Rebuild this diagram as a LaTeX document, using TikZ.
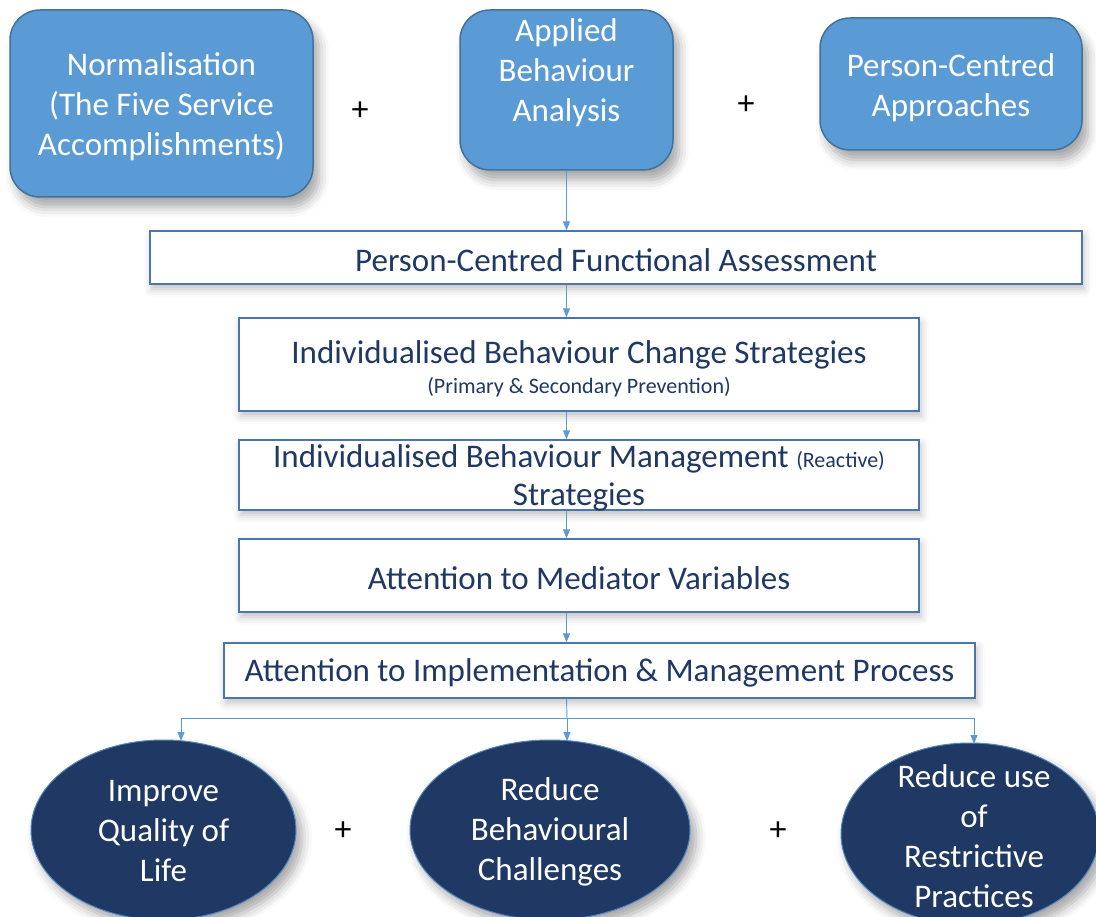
\documentclass[tikz,border=0pt]{standalone}
\usepackage{fontspec}
\setmainfont{Carlito}
\usetikzlibrary{shapes.geometric, arrows.meta, positioning, shadows, shadows.blur, calc}

\definecolor{skyblue}{HTML}{5B9BD5}
\definecolor{edgeblue}{HTML}{41719C}
\definecolor{frameblue}{HTML}{4A76AE}
\definecolor{navyfill}{HTML}{203864}
\definecolor{navytext}{HTML}{1F3864}

\tikzset{
    topbox/.style={draw=edgeblue, line width=1.5pt, fill=skyblue, rounded corners=30pt,
        blur shadow={shadow xshift=6pt, shadow yshift=-10pt, shadow blur radius=10pt, shadow opacity=35}},
    toptext/.style={text=white, align=center, font=\fontsize{33}{40}\selectfont, yshift=-3pt},
    stepbox/.style={draw=frameblue, line width=1.3pt, fill=white, inner sep=0pt,
        blur shadow={shadow xshift=2pt, shadow yshift=-5pt, shadow blur radius=8pt, shadow opacity=25}},
    steptext/.style={text=navytext, align=center, font=\fontsize{33}{38}\selectfont, yshift=-2.5pt},
    goal/.style={ellipse, draw=skyblue!80!navyfill, line width=1pt, fill=navyfill, inner sep=0pt,
        blur shadow={shadow xshift=6pt, shadow yshift=-8pt, shadow blur radius=10pt, shadow opacity=35}},
    goaltext/.style={text=white, align=center, font=\fontsize{33}{40}\selectfont, yshift=-1.5pt},
    plus/.style={font=\fontsize{34}{34}\selectfont},
    flowline/.style={draw=skyblue, line width=0.9pt},
    flow/.style={flowline, -{Triangle[width=7pt,length=9pt]}}
}

\begin{document}
\begin{tikzpicture}[x=1pt, y=-1pt]
    \useasboundingbox (0,0) rectangle (1096,917);

    % Top boxes
    \node[topbox, minimum width=303pt, minimum height=187pt] (norm) at (161.5,103.5) {};
    \node[toptext] (normText) at (161.5,104) {Normalisation\\(The Five Service\\Accomplishments)};
    \node[topbox, minimum width=213pt, minimum height=160pt] (aba) at (566.5,90) {};
    \node[toptext] (abaText) at (566.5,70) {Applied\\Behaviour\\Analysis};
    \node[topbox, minimum width=262pt, minimum height=132pt] (pca) at (951,84) {};
    \node[toptext] (pcaText) at (951,85) {Person-Centred\\Approaches};
    \node[plus] (plusA) at (360,111) {+};
    \node[plus] (plusB) at (746,105) {+};

    % Steps
    \node[stepbox, minimum width=932pt, minimum height=53pt] (pcfa) at (616,257.5) {};
    \node[steptext] (pcfaText) at (616,257.5) {Person-Centred Functional Assessment};
    \node[stepbox, minimum width=680pt, minimum height=93pt] (ibcs) at (579,364.5) {};
    \node[steptext] (ibcsText) at (579,366)
        {Individualised Behaviour Change Strategies\\[-8pt]{\fontsize{22}{24}\selectfont (Primary \& Secondary Prevention)}};
    \node[stepbox, minimum width=680pt, minimum height=70pt] (ibms) at (579,475) {};
    \node[steptext] (ibmsText) at (579,475)
        {Individualised Behaviour Management {\fontsize{22}{24}\selectfont (Reactive)}\\Strategies};
    \node[stepbox, minimum width=680pt, minimum height=73pt] (amv) at (579,575.5) {};
    \node[steptext] (amvText) at (579,575.5) {Attention to Mediator Variables};
    \node[stepbox, minimum width=751pt, minimum height=55pt] (aimp) at (599.5,670.5) {};
    \node[steptext] (aimpText) at (599.5,670.5) {Attention to Implementation \& Management Process};

    % Outcomes
    \node[goal, minimum width=265pt, minimum height=180pt] (qol) at (163.5,830) {};
    \node[goaltext] (qolText) at (163.5,830) {Improve\\Quality of\\Life};
    \node[goal, minimum width=280pt, minimum height=180pt] (rbc) at (550,830) {};
    \node[goaltext] (rbcText) at (550,830) {Reduce\\Behavioural\\Challenges};
    \node[goal, minimum width=258pt, minimum height=182pt] (rrp) at (970,834) {};
    \node[goaltext] (rrpText) at (974,835) {Reduce use\\of\\Restrictive\\Practices};
    \node[plus] (plusC) at (343,831) {+};
    \node[plus] (plusD) at (778,831) {+};

    % Connectors
    \draw[flow] (aba.south) -- (aba.south |- pcfa.north);
    \draw[flow] (aba.south |- pcfa.south) -- (aba.south |- ibcs.north);
    \draw[flow] (aba.south |- ibcs.south) -- (aba.south |- ibms.north);
    \draw[flow] (aba.south |- ibms.south) -- (aba.south |- amv.north);
    \draw[flow] (aba.south |- amv.south) -- (aba.south |- aimp.north);

    \coordinate (hub) at (567,718);
    \coordinate (hubL) at (181,718);
    \coordinate (hubR) at (974,718);
    \draw[flowline] (aba.south |- aimp.south) -- (hub);
    \draw[flowline] (hubL) -- (hubR);
    \draw[flow] (hubL) -- (181,741);
    \draw[flow] (hub) -- (567,741);
    \draw[flow] (hubR) -- (974,744);
\end{tikzpicture}
\end{document}
